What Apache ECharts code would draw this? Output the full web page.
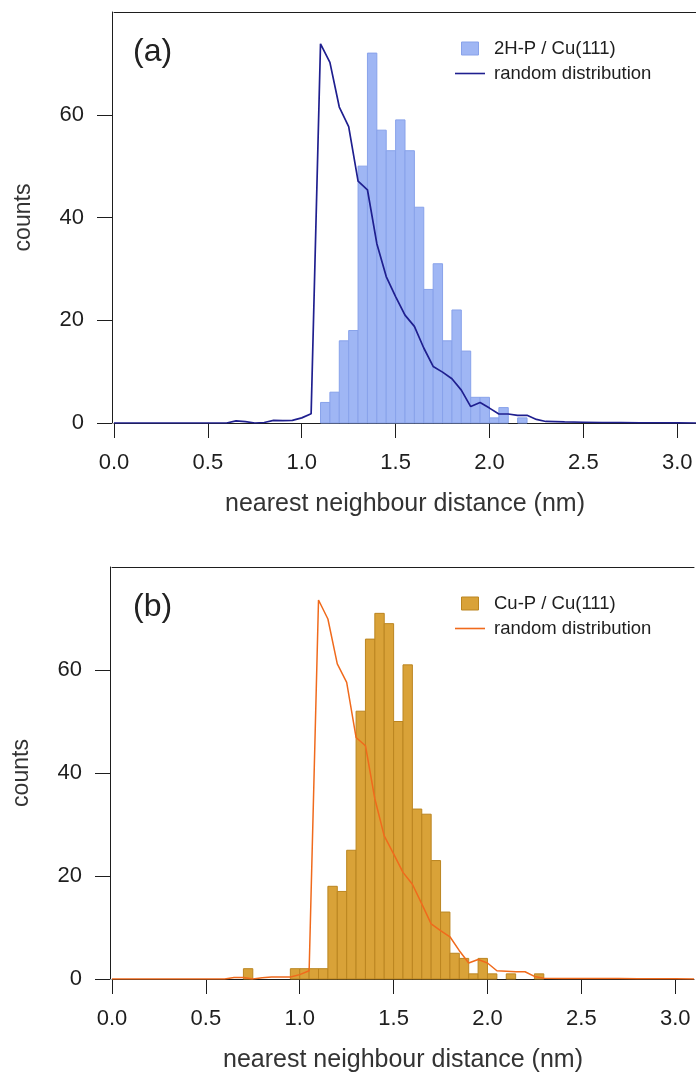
<!DOCTYPE html>
<html><head><meta charset="utf-8">
<script src="https://cdn.jsdelivr.net/npm/echarts@6.0.0/dist/echarts.min.js"></script>
<style>html,body{margin:0;padding:0;background:#fff}#c{width:696px;height:1075px}</style>
</head><body><div id="c"></div>
<script>
// ---- data ----
const xTickValues = [0, 0.5, 1.0, 1.5, 2.0, 2.5, 3.0];
const yTickValues = [0, 20, 40, 60];
const binWidth = 0.05;

// panel (a): 2H-P / Cu(111)
const binStartA = [1.10, 1.15, 1.20, 1.25, 1.30, 1.35, 1.40, 1.45, 1.50, 1.55, 1.60, 1.65, 1.70, 1.75, 1.80, 1.85, 1.90, 1.95, 2.00, 2.05, 2.10, 2.15];
const countsA   = [4, 6, 16, 18, 50, 72, 57, 53, 59, 53, 42, 26, 31, 16, 22, 14, 5, 5, 1, 3, 0, 1];
const randXA = [0.00, 0.60, 0.65, 0.70, 0.75, 0.80, 0.85, 0.90, 0.95, 1.00, 1.05, 1.10, 1.15, 1.20, 1.25, 1.30, 1.35, 1.40, 1.45, 1.50, 1.55, 1.60, 1.65, 1.70, 1.75, 1.80, 1.85, 1.90, 1.95, 2.00, 2.05, 2.10, 2.15, 2.20, 2.25, 2.30, 2.40, 2.50, 2.60, 2.70, 2.80, 2.90, 3.00, 3.10];
const randYA = [0, 0, 0.4, 0.25, 0, 0.1, 0.5, 0.45, 0.5, 1.0, 1.8, 73.8, 70.2, 61.5, 57.7, 47.1, 45.4, 34.9, 28.5, 24.6, 21.0, 18.8, 14.6, 11.0, 9.9, 8.6, 6.4, 3.2, 4.0, 2.9, 1.75, 1.75, 1.5, 1.5, 0.7, 0.3, 0.2, 0.15, 0.1, 0.1, 0.05, 0.05, 0.02, 0];

// panel (b): Cu-P / Cu(111)
const binStartB = [0.70, 0.95, 1.00, 1.05, 1.10, 1.15, 1.20, 1.25, 1.30, 1.35, 1.40, 1.45, 1.50, 1.55, 1.60, 1.65, 1.70, 1.75, 1.80, 1.85, 1.90, 1.95, 2.00, 2.10, 2.25];
const countsB   = [2, 2, 2, 2, 2, 18, 17, 25, 52, 66, 71, 69, 50, 61, 33, 32, 23, 13, 5, 4, 1, 4, 1, 1, 1];
const randXB = [0.00, 0.60, 0.65, 0.70, 0.75, 0.80, 0.85, 0.90, 0.95, 1.00, 1.05, 1.10, 1.15, 1.20, 1.25, 1.30, 1.35, 1.40, 1.45, 1.50, 1.55, 1.60, 1.65, 1.70, 1.75, 1.80, 1.85, 1.90, 1.95, 2.00, 2.05, 2.10, 2.15, 2.20, 2.25, 2.30, 2.40, 2.50, 2.60, 2.70, 2.80, 2.90, 3.00, 3.10];
const randYB = [0, 0, 0.3, 0.3, 0, 0.25, 0.4, 0.4, 0.4, 0.85, 1.6, 73.6, 69.9, 61.2, 57.6, 46.9, 45.3, 35.0, 27.8, 24.3, 20.7, 18.4, 14.6, 10.7, 9.4, 8.2, 5.5, 3.1, 3.8, 3.1, 1.6, 1.5, 1.4, 1.4, 0.5, 0.15, 0.1, 0.1, 0.1, 0.1, 0.05, 0.05, 0.05, 0];

const legendNames = {
  histA: '2H-P / Cu(111)', randA: 'random distribution',
  histB: 'Cu-P / Cu(111)', randB: 'random distribution'
};

// ---- styling ----
const FONT = '"Liberation Sans", Arial, Helvetica, sans-serif';
const INK = '#1e1e1e';
const colA = { fill: '#9fb6f4', stroke: '#88a2ea', line: '#1f1f8f' };
const colB = { fill: '#d9a238', stroke: '#bb8520', line: '#f06a1c' };

function histRender(fill, stroke) {
  return function (params, api) {
    const x0 = api.value(0), y = api.value(1);
    if (!y) return null;
    const p0 = api.coord([x0, 0]);
    const p1 = api.coord([x0 + binWidth, y]);
    return {
      type: 'rect',
      shape: { x: p0[0], y: p1[1], width: p1[0] - p0[0], height: p0[1] - p1[1] },
      style: { fill: fill, stroke: stroke, lineWidth: 1 }
    };
  };
}

function pairs(xs, ys) { return xs.map((x, i) => [x, ys[i]]); }

const grids = [
  { left: 114, top: 12, width: 582, height: 411 },
  { left: 112, top: 567, width: 582, height: 412 }
];

function bottomX(gi) {
  return {
    gridIndex: gi, type: 'value', min: 0, max: 3.1, position: 'bottom',
    name: 'nearest neighbour distance (nm)', nameLocation: 'middle', nameGap: 69,
    nameTextStyle: { fontFamily: FONT, fontSize: 25, color: '#333' },
    axisLine: { show: true, onZero: false, lineStyle: { color: INK, width: 1 } },
    axisTick: { show: true, length: 15, inside: false, customValues: xTickValues, lineStyle: { color: INK, width: 1 } },
    axisLabel: { show: true, customValues: xTickValues, margin: 29, fontFamily: FONT, fontSize: 22, color: INK,
      formatter: v => v.toFixed(1) },
    splitLine: { show: false }
  };
}
function topX(gi) {
  return {
    gridIndex: gi, type: 'value', min: 0, max: 3.1, position: 'top',
    axisLine: { show: true, onZero: false, lineStyle: { color: INK, width: 1 } },
    axisTick: { show: false }, axisLabel: { show: false }, splitLine: { show: false }
  };
}
function leftY(gi) {
  return {
    gridIndex: gi, type: 'value', min: 0, max: 80, offset: 2,
    name: 'counts', nameLocation: 'middle', nameGap: 77, nameRotate: 90,
    nameTextStyle: { fontFamily: FONT, fontSize: 23, color: '#333' },
    axisLine: { show: true, onZero: false, lineStyle: { color: INK, width: 1 } },
    axisTick: { show: true, length: 15, customValues: yTickValues, lineStyle: { color: INK, width: 1 } },
    axisLabel: { show: true, customValues: yTickValues, margin: 28, fontFamily: FONT, fontSize: 22, color: INK },
    splitLine: { show: false }
  };
}

function legendFor(top, histName, randName, col) {
  return {
    orient: 'vertical', left: 455, top: top, padding: 0,
    itemWidth: 30, itemHeight: 13, itemGap: 6,
    selectedMode: false,
    textStyle: { fontFamily: FONT, fontSize: 18.5, color: INK, lineHeight: 13, padding: [0, 0, 0, 4] },
    formatter: n => legendNames[n],
    data: [
      { name: histName, icon: 'path://M0,0L17,0L17,13L0,13Z', itemStyle: { color: col.fill, borderColor: col.stroke, borderWidth: 1 } },
      { name: randName, icon: 'path://M0,0L30,0L30,1.6L0,1.6Z', itemStyle: { color: col.line, borderWidth: 0 } }
    ]
  };
}

const option = {
  animation: false,
  backgroundColor: '#ffffff',
  grid: grids,
  xAxis: [bottomX(0), topX(0), bottomX(1), topX(1)],
  yAxis: [leftY(0), leftY(1)],
  legend: [legendFor(39, 'histA', 'randA', colA), legendFor(594, 'histB', 'randB', colB)],
  graphic: [
    { type: 'text', left: 133, top: 36, style: { text: '(a)', fontFamily: FONT, fontSize: 32, fill: '#222' } },
    { type: 'text', left: 133, top: 591, style: { text: '(b)', fontFamily: FONT, fontSize: 32, fill: '#222' } }
  ],
  series: [
    { name: 'histA', type: 'custom', xAxisIndex: 0, yAxisIndex: 0, renderItem: histRender(colA.fill, colA.stroke),
      encode: { x: 0, y: 1 }, data: pairs(binStartA, countsA), itemStyle: { color: colA.fill }, z: 2 },
    { name: 'randA', type: 'line', xAxisIndex: 0, yAxisIndex: 0, symbol: 'none', data: pairs(randXA, randYA),
      lineStyle: { color: colA.line, width: 1.7 }, itemStyle: { color: colA.line }, z: 3 },
    { name: 'histB', type: 'custom', xAxisIndex: 2, yAxisIndex: 1, renderItem: histRender(colB.fill, colB.stroke),
      encode: { x: 0, y: 1 }, data: pairs(binStartB, countsB), itemStyle: { color: colB.fill }, z: 2 },
    { name: 'randB', type: 'line', xAxisIndex: 2, yAxisIndex: 1, symbol: 'none', data: pairs(randXB, randYB),
      lineStyle: { color: colB.line, width: 1.5 }, itemStyle: { color: colB.line }, z: 3 }
  ]
};

const chart = echarts.init(document.getElementById('c'), null, { renderer: 'canvas', width: 696, height: 1075 });
chart.setOption(option);
</script>
</body></html>
